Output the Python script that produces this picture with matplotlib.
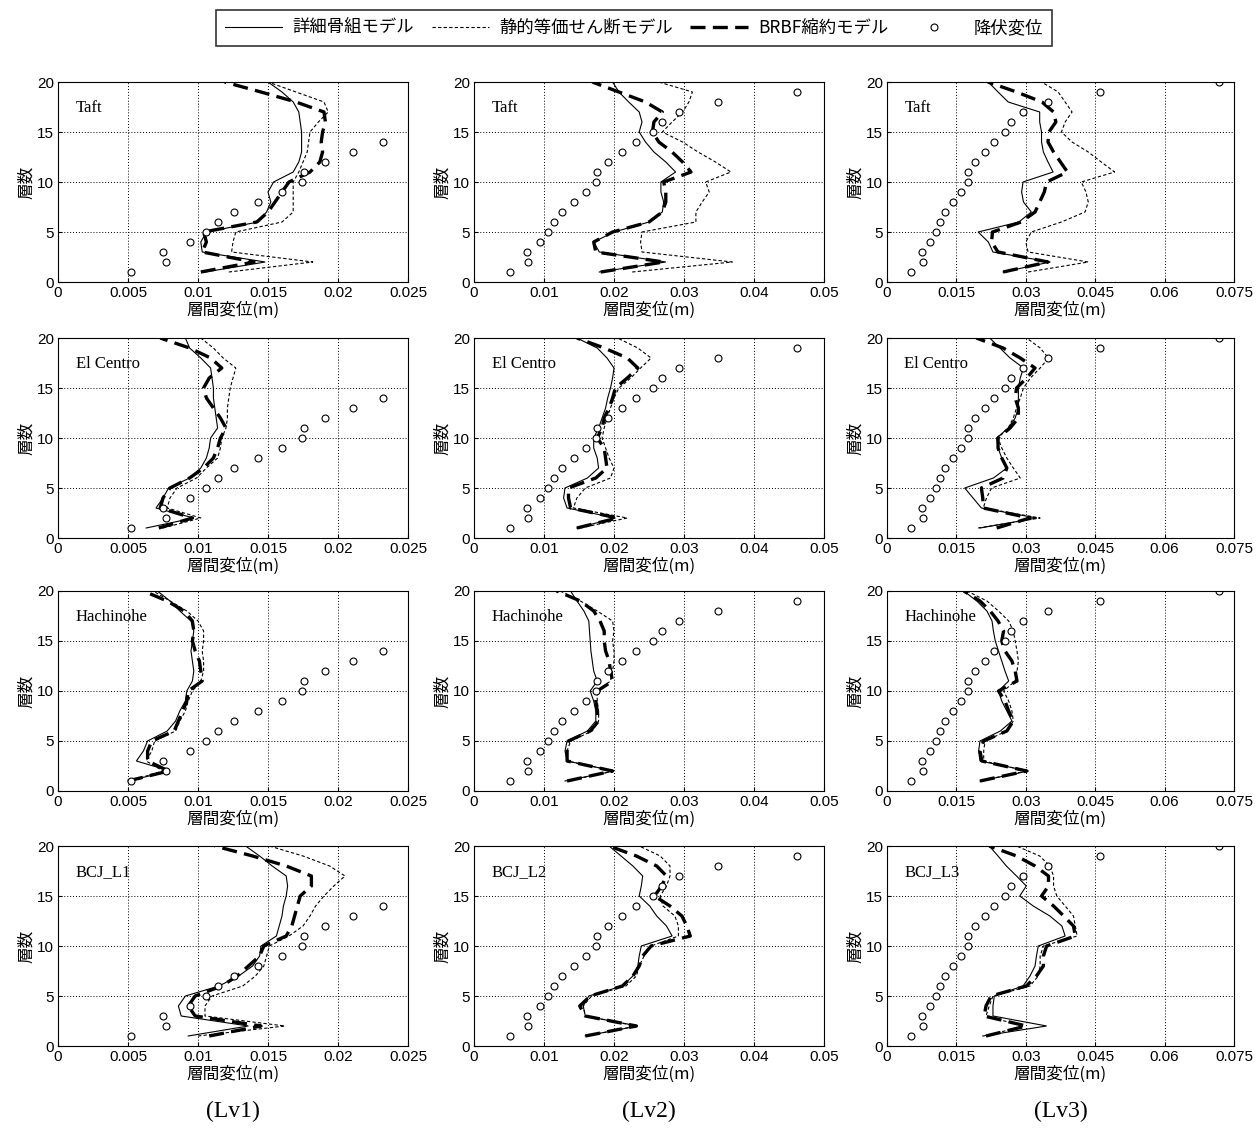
import matplotlib
matplotlib.use("Agg")
import matplotlib.pyplot as plt
from matplotlib.lines import Line2D
import numpy as np

plt.rcParams['font.family'] = ['Liberation Sans', 'Noto Sans CJK JP', 'DejaVu Sans']

stories = list(range(1, 21))

yield_disp = [0.0052, 0.0077, 0.0075, 0.0094, 0.0106, 0.0114, 0.0126, 0.0143, 0.0160, 0.0174,
              0.0176, 0.0191, 0.0211, 0.0232, 0.0255, 0.0268, 0.0293, 0.0348, 0.0461, 0.0718]

waves = ["Taft", "El Centro", "Hachinohe", "BCJ"]
levels = ["Lv1", "Lv2", "Lv3"]

xticks_lv1 = [0, 0.005, 0.01, 0.015, 0.02, 0.025]
xticks_lv2 = [0, 0.01, 0.02, 0.03, 0.04, 0.05]
xticks_lv3 = [0, 0.015, 0.03, 0.045, 0.06, 0.075]
xticklabels_lv1 = ["0", "0.005", "0.01", "0.015", "0.02", "0.025"]
xticklabels_lv2 = ["0", "0.01", "0.02", "0.03", "0.04", "0.05"]
xticklabels_lv3 = ["0", "0.015", "0.03", "0.045", "0.06", "0.075"]
yticks = [0, 5, 10, 15, 20]

# ---- Taft ----
taft_lv1_detail = [0.0105, 0.0148, 0.0103, 0.0102, 0.0106, 0.0143, 0.0149, 0.0152, 0.0150, 0.0154,
                   0.0168, 0.0172, 0.0174, 0.0174, 0.0174, 0.0173, 0.0172, 0.0168, 0.0160, 0.0150]
taft_lv1_static = [0.0122, 0.0182, 0.0124, 0.0125, 0.0127, 0.0160, 0.0168, 0.0168, 0.0168, 0.0168,
                   0.0172, 0.0175, 0.0178, 0.0179, 0.0180, 0.0186, 0.0193, 0.0190, 0.0170, 0.0150]
taft_lv1_brbf = [0.0102, 0.0140, 0.0103, 0.0106, 0.0104, 0.0142, 0.0150, 0.0155, 0.0160, 0.0165,
                 0.0180, 0.0187, 0.0189, 0.0188, 0.0189, 0.0191, 0.0190, 0.0170, 0.0145, 0.0119]

taft_lv2_detail = [0.0179, 0.0274, 0.0179, 0.0171, 0.0200, 0.0250, 0.0269, 0.0271, 0.0267, 0.0267,
                   0.0288, 0.0274, 0.0257, 0.0245, 0.0236, 0.0240, 0.0236, 0.0221, 0.0207, 0.0198]
taft_lv2_static = [0.0226, 0.0369, 0.0240, 0.0238, 0.0240, 0.0317, 0.0317, 0.0326, 0.0336, 0.0331,
                   0.0367, 0.0345, 0.0320, 0.0298, 0.0269, 0.0283, 0.0298, 0.0307, 0.0312, 0.0264]
taft_lv2_brbf = [0.0181, 0.0271, 0.0174, 0.0171, 0.0198, 0.0250, 0.0269, 0.0274, 0.0274, 0.0271,
                 0.0310, 0.0298, 0.0283, 0.0264, 0.0255, 0.0257, 0.0269, 0.0245, 0.0207, 0.0169]

taft_lv3_detail = [0.0251, 0.0353, 0.0229, 0.0219, 0.0197, 0.0285, 0.0312, 0.0295, 0.0291, 0.0294,
                   0.0359, 0.0348, 0.0338, 0.0334, 0.0334, 0.0330, 0.0330, 0.0262, 0.0240, 0.0219]
taft_lv3_static = [0.0305, 0.0435, 0.0305, 0.0300, 0.0312, 0.0377, 0.0428, 0.0435, 0.0430, 0.0420,
                   0.0492, 0.0463, 0.0435, 0.0400, 0.0377, 0.0385, 0.0400, 0.0385, 0.0370, 0.0334]
taft_lv3_brbf = [0.0251, 0.0348, 0.0240, 0.0226, 0.0228, 0.0290, 0.0320, 0.0330, 0.0340, 0.0345,
                 0.0390, 0.0375, 0.0360, 0.0348, 0.0350, 0.0365, 0.0360, 0.0335, 0.0280, 0.0218]

# ---- El Centro ----
elc_lv1_detail = [0.0063, 0.0097, 0.0070, 0.0075, 0.0079, 0.0094, 0.0102, 0.0106, 0.0108, 0.0109,
                  0.0114, 0.0113, 0.0112, 0.0111, 0.0111, 0.0110, 0.0109, 0.0102, 0.0094, 0.0091]
elc_lv1_static = [0.0075, 0.0102, 0.0078, 0.0080, 0.0085, 0.0099, 0.0106, 0.0114, 0.0116, 0.0117,
                  0.0120, 0.0121, 0.0121, 0.0122, 0.0123, 0.0125, 0.0127, 0.0118, 0.0111, 0.0102]
elc_lv1_brbf = [0.0072, 0.0096, 0.0073, 0.0075, 0.0080, 0.0094, 0.0104, 0.0111, 0.0114, 0.0116,
                0.0120, 0.0116, 0.0111, 0.0106, 0.0104, 0.0108, 0.0117, 0.0109, 0.0094, 0.0073]

elc_lv2_detail = [0.0147, 0.0202, 0.0133, 0.0128, 0.0130, 0.0162, 0.0178, 0.0176, 0.0171, 0.0171,
                  0.0178, 0.0183, 0.0188, 0.0191, 0.0195, 0.0198, 0.0200, 0.0190, 0.0176, 0.0147]
elc_lv2_static = [0.0152, 0.0219, 0.0142, 0.0147, 0.0159, 0.0195, 0.0200, 0.0193, 0.0188, 0.0183,
                  0.0186, 0.0190, 0.0195, 0.0200, 0.0207, 0.0224, 0.0238, 0.0253, 0.0234, 0.0205]
elc_lv2_brbf = [0.0147, 0.0205, 0.0138, 0.0135, 0.0135, 0.0174, 0.0190, 0.0188, 0.0186, 0.0176,
                0.0183, 0.0186, 0.0193, 0.0198, 0.0202, 0.0219, 0.0234, 0.0219, 0.0186, 0.0147]

elc_lv3_detail = [0.0201, 0.0324, 0.0204, 0.0186, 0.0168, 0.0230, 0.0259, 0.0248, 0.0240, 0.0237,
                  0.0262, 0.0277, 0.0284, 0.0284, 0.0284, 0.0288, 0.0295, 0.0266, 0.0244, 0.0222]
elc_lv3_static = [0.0197, 0.0331, 0.0208, 0.0215, 0.0226, 0.0288, 0.0273, 0.0259, 0.0248, 0.0240,
                  0.0262, 0.0273, 0.0280, 0.0288, 0.0295, 0.0310, 0.0331, 0.0349, 0.0331, 0.0302]
elc_lv3_brbf = [0.0237, 0.0309, 0.0208, 0.0207, 0.0204, 0.0251, 0.0259, 0.0248, 0.0240, 0.0240,
                0.0266, 0.0284, 0.0284, 0.0277, 0.0280, 0.0302, 0.0320, 0.0288, 0.0251, 0.0193]

# ---- Hachinohe ----
hac_lv1_detail = [0.0050, 0.0080, 0.0056, 0.0061, 0.0064, 0.0078, 0.0084, 0.0087, 0.0091, 0.0092,
                  0.0096, 0.0097, 0.0096, 0.0095, 0.0096, 0.0097, 0.0095, 0.0087, 0.0080, 0.0071]
hac_lv1_static = [0.0051, 0.0075, 0.0063, 0.0067, 0.0069, 0.0084, 0.0087, 0.0091, 0.0093, 0.0096,
                  0.0102, 0.0104, 0.0104, 0.0103, 0.0104, 0.0104, 0.0100, 0.0092, 0.0080, 0.0068]
hac_lv1_brbf = [0.0050, 0.0079, 0.0064, 0.0064, 0.0067, 0.0083, 0.0086, 0.0089, 0.0092, 0.0093,
                0.0103, 0.0102, 0.0101, 0.0098, 0.0096, 0.0097, 0.0096, 0.0090, 0.0078, 0.0061]

hac_lv2_detail = [0.0130, 0.0200, 0.0133, 0.0130, 0.0133, 0.0162, 0.0174, 0.0174, 0.0171, 0.0166,
                  0.0176, 0.0171, 0.0169, 0.0167, 0.0166, 0.0165, 0.0164, 0.0157, 0.0147, 0.0138]
hac_lv2_static = [0.0133, 0.0200, 0.0133, 0.0133, 0.0138, 0.0169, 0.0178, 0.0178, 0.0176, 0.0176,
                  0.0195, 0.0198, 0.0200, 0.0200, 0.0198, 0.0200, 0.0198, 0.0176, 0.0152, 0.0123]
hac_lv2_brbf = [0.0133, 0.0198, 0.0133, 0.0133, 0.0135, 0.0166, 0.0178, 0.0176, 0.0174, 0.0176,
                0.0198, 0.0195, 0.0193, 0.0188, 0.0186, 0.0186, 0.0180, 0.0171, 0.0152, 0.0118]

hac_lv3_detail = [0.0201, 0.0306, 0.0201, 0.0198, 0.0201, 0.0245, 0.0270, 0.0259, 0.0248, 0.0241,
                  0.0263, 0.0255, 0.0248, 0.0241, 0.0234, 0.0230, 0.0227, 0.0216, 0.0194, 0.0166]
hac_lv3_static = [0.0201, 0.0302, 0.0209, 0.0209, 0.0212, 0.0259, 0.0273, 0.0270, 0.0263, 0.0252,
                  0.0277, 0.0281, 0.0284, 0.0281, 0.0277, 0.0273, 0.0263, 0.0241, 0.0216, 0.0173]
hac_lv3_brbf = [0.0201, 0.0302, 0.0205, 0.0201, 0.0209, 0.0259, 0.0273, 0.0263, 0.0255, 0.0241,
                0.0281, 0.0277, 0.0270, 0.0255, 0.0248, 0.0252, 0.0240, 0.0223, 0.0201, 0.0166]

# ---- BCJ ----
bcj_lv1_detail = [0.0093, 0.0136, 0.0088, 0.0086, 0.0091, 0.0115, 0.0129, 0.0139, 0.0144, 0.0145,
                  0.0156, 0.0158, 0.0160, 0.0161, 0.0163, 0.0164, 0.0163, 0.0153, 0.0144, 0.0134]
bcj_lv1_static = [0.0100, 0.0162, 0.0105, 0.0105, 0.0110, 0.0132, 0.0141, 0.0147, 0.0149, 0.0151,
                  0.0165, 0.0175, 0.0180, 0.0184, 0.0190, 0.0197, 0.0205, 0.0194, 0.0175, 0.0151]
bcj_lv1_brbf = [0.0108, 0.0145, 0.0098, 0.0093, 0.0098, 0.0117, 0.0128, 0.0136, 0.0144, 0.0147,
                0.0163, 0.0167, 0.0169, 0.0171, 0.0173, 0.0181, 0.0181, 0.0163, 0.0139, 0.0112]

bcj_lv2_detail = [0.0159, 0.0234, 0.0159, 0.0156, 0.0164, 0.0212, 0.0227, 0.0234, 0.0236, 0.0239,
                  0.0283, 0.0275, 0.0261, 0.0251, 0.0236, 0.0239, 0.0241, 0.0227, 0.0210, 0.0193]
bcj_lv2_static = [0.0161, 0.0232, 0.0159, 0.0156, 0.0168, 0.0217, 0.0232, 0.0236, 0.0243, 0.0253,
                  0.0292, 0.0292, 0.0287, 0.0270, 0.0266, 0.0275, 0.0280, 0.0280, 0.0266, 0.0236]
bcj_lv2_brbf = [0.0159, 0.0232, 0.0159, 0.0151, 0.0166, 0.0212, 0.0227, 0.0236, 0.0241, 0.0253,
                0.0309, 0.0304, 0.0297, 0.0280, 0.0258, 0.0268, 0.0275, 0.0261, 0.0232, 0.0193]

bcj_lv3_detail = [0.0207, 0.0345, 0.0229, 0.0229, 0.0232, 0.0294, 0.0309, 0.0320, 0.0323, 0.0327,
                  0.0385, 0.0378, 0.0352, 0.0316, 0.0287, 0.0301, 0.0280, 0.0258, 0.0240, 0.0221]
bcj_lv3_static = [0.0214, 0.0294, 0.0214, 0.0221, 0.0229, 0.0309, 0.0327, 0.0331, 0.0331, 0.0338,
                  0.0411, 0.0407, 0.0403, 0.0385, 0.0367, 0.0360, 0.0360, 0.0352, 0.0330, 0.0280]
bcj_lv3_brbf = [0.0214, 0.0301, 0.0210, 0.0214, 0.0225, 0.0301, 0.0323, 0.0338, 0.0338, 0.0345,
                0.0407, 0.0403, 0.0382, 0.0360, 0.0334, 0.0349, 0.0349, 0.0320, 0.0280, 0.0221]

panel_labels = [["Taft", "Taft", "Taft"],
                ["El Centro", "El Centro", "El Centro"],
                ["Hachinohe", "Hachinohe", "Hachinohe"],
                ["BCJ_L1", "BCJ_L2", "BCJ_L3"]]

data = [
    [(taft_lv1_detail, taft_lv1_static, taft_lv1_brbf),
     (taft_lv2_detail, taft_lv2_static, taft_lv2_brbf),
     (taft_lv3_detail, taft_lv3_static, taft_lv3_brbf)],
    [(elc_lv1_detail, elc_lv1_static, elc_lv1_brbf),
     (elc_lv2_detail, elc_lv2_static, elc_lv2_brbf),
     (elc_lv3_detail, elc_lv3_static, elc_lv3_brbf)],
    [(hac_lv1_detail, hac_lv1_static, hac_lv1_brbf),
     (hac_lv2_detail, hac_lv2_static, hac_lv2_brbf),
     (hac_lv3_detail, hac_lv3_static, hac_lv3_brbf)],
    [(bcj_lv1_detail, bcj_lv1_static, bcj_lv1_brbf),
     (bcj_lv2_detail, bcj_lv2_static, bcj_lv2_brbf),
     (bcj_lv3_detail, bcj_lv3_static, bcj_lv3_brbf)],
]

xticks_all = [xticks_lv1, xticks_lv2, xticks_lv3]
xticklabels_all = [xticklabels_lv1, xticklabels_lv2, xticklabels_lv3]
legend_labels = ["詳細骨組モデル", "静的等価せん断モデル", "BRBF縮約モデル", "降伏変位"]

W, H = 1257, 1128
fig = plt.figure(figsize=(W / 100, H / 100), dpi=100)

lefts = [58, 474, 887]
widths = [350, 350, 347]
tops = [82, 338, 591, 846]
ah = 200

cjk = ['Noto Sans CJK JP', 'DejaVu Sans']
serif = ['Liberation Serif', 'DejaVu Serif']

for r in range(4):
    for c in range(3):
        ax = fig.add_axes([lefts[c] / W, 1 - (tops[r] + ah) / H, widths[c] / W, ah / H])
        det, sta, brb = data[r][c]
        ax.plot(det, stories, color='black', lw=0.8, solid_joinstyle='miter')
        ax.plot(sta, stories, color='black', lw=0.8, dashes=(3, 2))
        ax.plot(brb, stories, color='black', lw=2.4, dashes=(4.5, 2.2))
        ax.plot(yield_disp, stories, linestyle='none', marker='o', markersize=5,
                markerfacecolor='white', markeredgecolor='black', markeredgewidth=0.8,
                clip_on=True)
        ax.set_xlim(xticks_all[c][0], xticks_all[c][-1])
        ax.set_ylim(0, 20)
        ax.set_xticks(xticks_all[c])
        ax.set_xticklabels(xticklabels_all[c])
        ax.set_yticks(yticks)
        ax.tick_params(direction='in', length=3, labelsize=11, pad=3)
        ax.grid(True, color='black', linestyle=(0, (1, 2)), linewidth=0.7)
        for sp in ax.spines.values():
            sp.set_linewidth(0.8)
        ax.set_xlabel("層間変位(m)", fontsize=12, family=cjk, labelpad=1)
        ax.set_ylabel("層数", fontsize=12, family=cjk, labelpad=1)
        ax.text(0.05, 0.87, panel_labels[r][c], transform=ax.transAxes,
                fontsize=12, family=serif, va='center', ha='left')

for c in range(3):
    fig.text((lefts[c] + widths[c] / 2) / W, 1 - 1111 / H, "(" + levels[c] + ")",
             fontsize=17, family=serif, ha='center', va='center')

handles = [
    Line2D([], [], color='black', lw=0.8),
    Line2D([], [], color='black', lw=0.8, dashes=(3, 2)),
    Line2D([], [], color='black', lw=2.4, dashes=(4.5, 2.2)),
    Line2D([], [], linestyle='none', marker='o', markersize=5, markerfacecolor='white',
           markeredgecolor='black', markeredgewidth=0.8),
]
leg = fig.legend(handles, legend_labels, loc='center', bbox_to_anchor=(634 / W, 1 - 28 / H),
                 ncol=4, frameon=True, fancybox=False, edgecolor='black', handlelength=3.3,
                 columnspacing=1.0, handletextpad=0.6, borderpad=0.5, borderaxespad=0.2,
                 prop={'family': cjk, 'size': 12.5})
leg.get_frame().set_linewidth(1.2)

fig.savefig("out.png", dpi=100)
